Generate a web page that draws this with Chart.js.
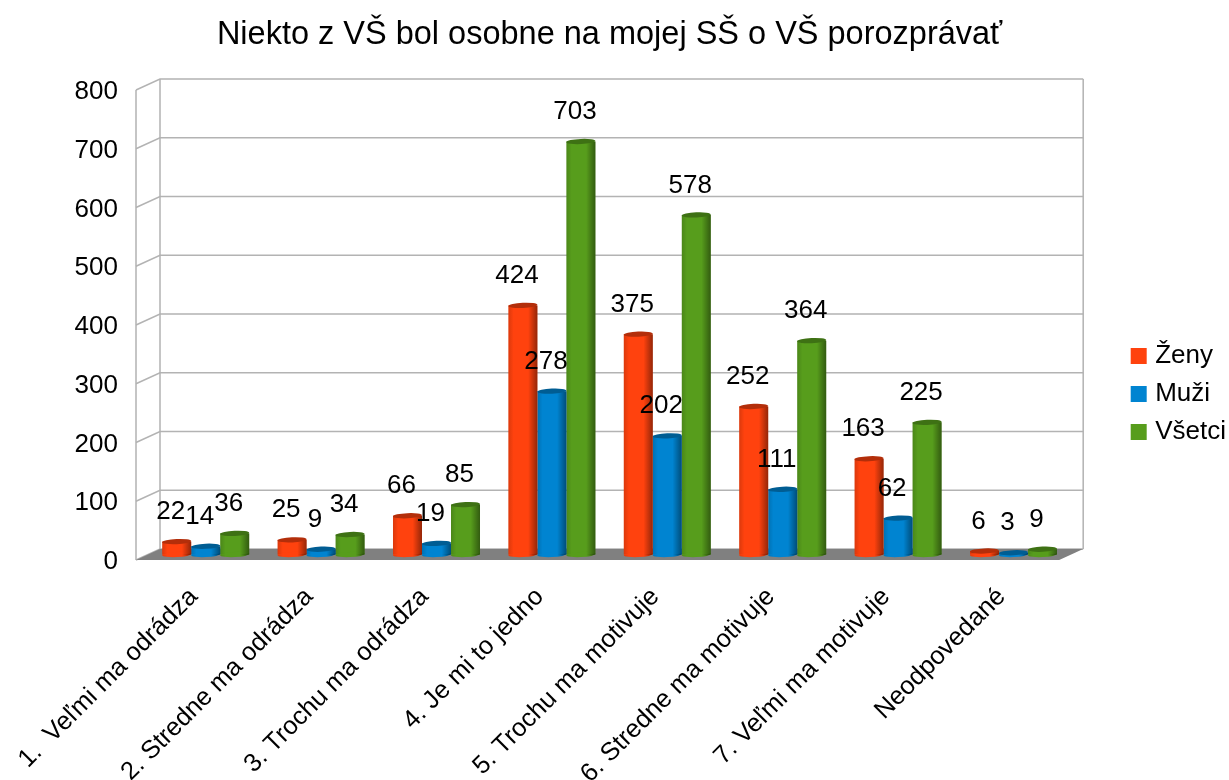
<!DOCTYPE html>
<html lang="sk">
<head>
<meta charset="utf-8">
<title>Niekto z VŠ bol osobne na mojej SŠ o VŠ porozprávať</title>
<script src="https://cdn.jsdelivr.net/npm/chart.js@4"></script>
<style>
  html, body { margin: 0; background: #fff; overflow: hidden; }
  canvas { display: block; }
</style>
</head>
<body>
<canvas id="chart" width="1229" height="780"></canvas>
<script>
const categories = [
  "1.  Veľmi ma odrádza",
  "2. Stredne ma odrádza",
  "3. Trochu ma odrádza",
  "4. Je mi to jedno",
  "5. Trochu ma motivuje",
  "6. Stredne ma motivuje",
  "7. Veľmi ma motivuje",
  "Neodpovedané"
];
const zeny = [22, 25, 66, 424, 375, 252, 163, 6];
const muzi = [14, 9, 19, 278, 202, 111, 62, 3];
const vsetci = [36, 34, 85, 703, 578, 364, 225, 9];

const FONT = "'Liberation Sans', Arial, sans-serif";
const RED = "#ff420e", BLUE = "#0084d1", GREEN = "#579d1c";
const capColors = { [RED]: "#b32e0a", [BLUE]: "#005d93", [GREEN]: "#3e7114" };

// depth of the fake 3D box: back wall is offset from the front plane (the chart area)
const DEPTH_X = 24, DEPTH_Y = -11;
const WALL = "#b3b3b3";

const box3d = {
  id: "box3d",
  afterLayout(chart) {
    // title is centred over the whole box, back wall included
    const a = chart.chartArea;
    chart.titleBlock.left = a.left;
    chart.titleBlock.right = a.right + DEPTH_X;
    chart.legend.left += 7;
    chart.legend.right += 7;
    chart.legend.top += 4;
    chart.legend.bottom += 4;
  },
  beforeDatasetsDraw(chart) {
    const { ctx, chartArea: a, scales: { y } } = chart;
    const bottom = y.getPixelForValue(0);
    ctx.save();
    ctx.strokeStyle = WALL;
    ctx.lineWidth = 1.5;
    y.ticks.forEach(t => {
      const py = y.getPixelForValue(t.value);
      ctx.beginPath();
      ctx.moveTo(a.left, py);
      ctx.lineTo(a.left + DEPTH_X, py + DEPTH_Y);
      ctx.lineTo(a.right + DEPTH_X, py + DEPTH_Y);
      ctx.stroke();
    });
    // walls
    ctx.beginPath();
    ctx.moveTo(a.left, a.top);
    ctx.lineTo(a.left, bottom);
    ctx.moveTo(a.left + DEPTH_X, a.top + DEPTH_Y);
    ctx.lineTo(a.left + DEPTH_X, bottom + DEPTH_Y);
    ctx.moveTo(a.right + DEPTH_X, a.top + DEPTH_Y);
    ctx.lineTo(a.right + DEPTH_X, bottom + DEPTH_Y);
    ctx.stroke();
    // floor
    ctx.fillStyle = "#808080";
    ctx.beginPath();
    ctx.moveTo(a.left, bottom);
    ctx.lineTo(a.right, bottom);
    ctx.lineTo(a.right + DEPTH_X, bottom + DEPTH_Y);
    ctx.lineTo(a.left + DEPTH_X, bottom + DEPTH_Y);
    ctx.closePath();
    ctx.fill();
    ctx.restore();
    // bars stand half way into the box
    ctx.save();
    ctx.translate(DEPTH_X / 2, DEPTH_Y / 2);
  },
  afterDatasetsDraw(chart) {
    const { ctx } = chart;
    chart.data.datasets.forEach((ds, i) => {
      chart.getDatasetMeta(i).data.forEach(bar => {
        const rx = bar.width / 2, ry = 2.6, tilt = -0.045;
        const left = bar.x - rx;
        const shade = ctx.createLinearGradient(left, 0, left + bar.width, 0);
        shade.addColorStop(0, "rgba(0,0,0,0.14)");
        shade.addColorStop(0.18, "rgba(0,0,0,0)");
        shade.addColorStop(0.68, "rgba(0,0,0,0)");
        shade.addColorStop(1, "rgba(0,0,0,0.42)");
        // rounded foot
        ctx.fillStyle = ds.backgroundColor;
        ctx.beginPath();
        ctx.ellipse(bar.x, bar.base, rx, ry, tilt, 0, Math.PI * 2);
        ctx.fill();
        // side shading
        ctx.fillStyle = shade;
        ctx.beginPath();
        ctx.rect(left, bar.y, bar.width, bar.base - bar.y);
        ctx.fill();
        ctx.beginPath();
        ctx.ellipse(bar.x, bar.base, rx, ry, tilt, 0, Math.PI);
        ctx.fill();
        // top cap
        ctx.fillStyle = capColors[ds.backgroundColor];
        ctx.beginPath();
        ctx.ellipse(bar.x, bar.y, rx, ry, tilt, 0, Math.PI * 2);
        ctx.fill();
      });
    });
    ctx.restore();
    // value labels
    ctx.save();
    ctx.fillStyle = "#000";
    ctx.font = "26px " + FONT;
    ctx.textAlign = "center";
    ctx.textBaseline = "middle";
    chart.data.datasets.forEach((ds, i) => {
      chart.getDatasetMeta(i).data.forEach((bar, j) => {
        ctx.fillText(ds.data[j], bar.x + DEPTH_X / 2 - 6, bar.y + DEPTH_Y / 2 - 29.5);
      });
    });
    ctx.restore();
  }
};

new Chart(document.getElementById("chart"), {
  type: "bar",
  plugins: [box3d],
  data: {
    labels: categories,
    datasets: [
      { label: "Ženy", data: zeny, backgroundColor: RED, clip: false },
      { label: "Muži", data: muzi, backgroundColor: BLUE, clip: false },
      { label: "Všetci", data: vsetci, backgroundColor: GREEN, clip: false }
    ]
  },
  options: {
    responsive: false,
    animation: false,
    layout: { padding: 0 },
    datasets: { bar: { categoryPercentage: 0.754, barPercentage: 1 } },
    scales: {
      x: {
        grid: { display: false, drawTicks: false },
        border: { display: false },
        ticks: {
          color: "#000",
          font: { family: FONT, size: 25.5 },
          autoSkip: false,
          minRotation: 45,
          maxRotation: 45,
          padding: 22,
          labelOffset: 0
        },
        afterFit(s) {
          s.height = 220;
          s.paddingLeft = 0;
          s.paddingRight = 0;
        }
      },
      y: {
        min: 0,
        max: 800,
        grid: { display: false, drawTicks: false },
        border: { display: false },
        ticks: {
          stepSize: 100,
          color: "#000",
          font: { family: FONT, size: 26 },
          padding: 18,
          labelOffset: 2
        },
        afterFit(s) { s.width = 136; }
      },
      // empty axis, keeps the gap between the box and the legend
      legendGap: {
        position: "right",
        grid: { display: false },
        border: { display: false },
        ticks: { display: false },
        afterFit(s) { s.width = 57; }
      }
    },
    plugins: {
      title: {
        display: true,
        text: "Niekto z VŠ bol osobne na mojej SŠ o VŠ porozprávať",
        color: "#000",
        fullSize: false,
        font: { family: FONT, size: 32.5, weight: "normal" },
        padding: { top: 16, bottom: 35 }
      },
      legend: {
        position: "right",
        labels: {
          color: "#000",
          font: { family: FONT, size: 26 },
          boxWidth: 7,
          boxHeight: 7,
          padding: 12,
          generateLabels(chart) {
            return chart.data.datasets.map((ds, i) => ({
              text: ds.label,
              fillStyle: ds.backgroundColor,
              strokeStyle: ds.backgroundColor,
              lineWidth: 9,
              lineJoin: "miter",
              fontColor: "#000",
              datasetIndex: i
            }));
          }
        }
      },
      tooltip: { enabled: false }
    }
  }
});
</script>
</body>
</html>
